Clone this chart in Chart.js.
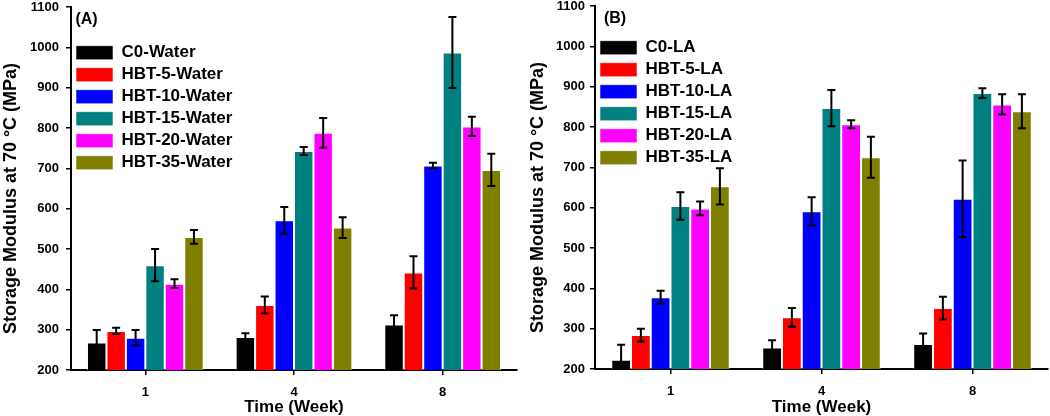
<!DOCTYPE html>
<html>
<head>
<meta charset="utf-8">
<script src="https://cdn.jsdelivr.net/npm/chart.js@4.4.0/dist/chart.umd.min.js"></script>
<style>
body { margin: 0; background: #fff; }
.panel { position: absolute; top: 0; }
</style>
</head>
<body>
<canvas id="chartA" class="panel" width="525" height="416" style="left:0"></canvas>
<canvas id="chartB" class="panel" width="525" height="416" style="left:525px"></canvas>
<script>
const weeks = ['1', '4', '8'];
const waterLabels = ['C0-Water', 'HBT-5-Water', 'HBT-10-Water', 'HBT-15-Water', 'HBT-20-Water', 'HBT-35-Water'];
const laLabels = ['C0-LA', 'HBT-5-LA', 'HBT-10-LA', 'HBT-15-LA', 'HBT-20-LA', 'HBT-35-LA'];
const barColors = ['#000000', '#ff0000', '#0000ff', '#008080', '#ff00ff', '#808000'];

// storage modulus (MPa), one row per sample, columns = week 1, 4, 8
const waterMeans = [
    [268, 282, 313],
    [297, 361, 442],
    [280, 571, 707],
    [460, 743, 987],
    [414, 788, 804],
    [530, 553, 696]
];
const waterErrors = [
    [31, 9, 23],
    [8, 21, 40],
    [19, 33, 7],
    [40, 10, 88],
    [11, 37, 24],
    [17, 26, 40]
];
const laMeans = [
    [223, 253, 262],
    [284, 328, 351],
    [378, 591, 622],
    [604, 847, 884],
    [598, 807, 856],
    [653, 725, 839]
];
const laErrors = [
    [37, 18, 26],
    [16, 23, 28],
    [16, 35, 95],
    [34, 45, 12],
    [17, 10, 25],
    [45, 51, 42]
];

Chart.defaults.font.family = '"Liberation Sans", Arial, sans-serif';
Chart.defaults.font.weight = 'bold';
Chart.defaults.color = '#000';

const errorBarPlugin = {
    id: 'errorBars',
    afterDatasetsDraw(chart) {
        const ctx = chart.ctx;
        const yScale = chart.scales.y;
        const area = chart.chartArea;
        ctx.save();
        ctx.beginPath();
        ctx.rect(area.left, area.top, area.right - area.left, area.bottom - area.top);
        ctx.clip();
        ctx.strokeStyle = '#000';
        ctx.lineWidth = 2;
        chart.data.datasets.forEach((ds, i) => {
            chart.getDatasetMeta(i).data.forEach((bar, j) => {
                const top = yScale.getPixelForValue(ds.data[j] + ds.errors[j]);
                const bottom = yScale.getPixelForValue(ds.data[j] - ds.errors[j]);
                ctx.beginPath();
                ctx.moveTo(bar.x, top);
                ctx.lineTo(bar.x, bottom);
                ctx.moveTo(bar.x - 4, top);
                ctx.lineTo(bar.x + 4, top);
                ctx.moveTo(bar.x - 4, bottom);
                ctx.lineTo(bar.x + 4, bottom);
                ctx.stroke();
            });
        });
        ctx.restore();
    }
};

function buildChart(id, panel, labels, means, errors, opts) {
    return new Chart(document.getElementById(id), {
        type: 'bar',
        data: {
            labels: weeks,
            datasets: labels.map((name, i) => ({
                label: name,
                data: means[i],
                errors: errors[i],
                backgroundColor: barColors[i],
                borderColor: 'rgba(255,255,255,0.55)',
                borderWidth: 1
            }))
        },
        options: {
            responsive: false,
            animation: false,
            layout: { padding: { top: opts.top, right: opts.right, left: 0, bottom: 0 } },
            datasets: { bar: { categoryPercentage: 0.785, barPercentage: 1 } },
            plugins: {
                tooltip: { enabled: false },
                legend: {
                    position: 'chartArea',
                    align: 'start',
                    title: {
                        display: true,
                        text: panel,
                        position: 'start',
                        font: { size: 16, weight: 'bold' },
                        padding: opts.titlePad
                    },
                    labels: {
                        boxWidth: 37,
                        boxHeight: 14,
                        padding: 5,
                        font: { size: 17, weight: 'bold' }
                    }
                }
            },
            scales: {
                x: {
                    grid: { display: true, offset: false, drawOnChartArea: false, tickLength: 5, color: '#000', lineWidth: 1.5 },
                    border: { color: '#000', width: 2 },
                    ticks: { font: { size: 13, weight: 'bold' }, padding: 10 },
                    title: { display: true, text: 'Time (Week)', font: { size: 17, weight: 'bold', lineHeight: 1 }, padding: 0 },
                    afterFit: s => {
                        s.height = opts.xHeight;
                        s.paddingLeft = 0;
                        s.paddingRight = 0;
                    }
                },
                y: {
                    min: 200,
                    max: 1100,
                    grid: { drawOnChartArea: false, tickLength: 5, color: '#000', lineWidth: 1.5 },
                    border: { color: '#000', width: 2 },
                    ticks: {
                        stepSize: 100,
                        font: { size: 13, weight: 'bold' },
                        padding: opts.tickPad,
                        callback: v => String(v)
                    },
                    title: {
                        display: true,
                        text: 'Storage Modulus at 70 °C (MPa)    ',
                        font: { size: 18, weight: 'bold', lineHeight: 1 },
                        padding: { top: opts.yTitlePad, bottom: 0 }
                    },
                    afterFit: s => {
                        s.width = opts.yWidth;
                        s.paddingTop = 0;
                        s.paddingBottom = 0;
                    }
                }
            }
        },
        plugins: [errorBarPlugin]
    });
}

buildChart('chartA', ' (A)', waterLabels, waterMeans, waterErrors,
    { top: 7, right: 8, xHeight: 46, yWidth: 71, tickPad: 7, yTitlePad: 2, titlePad: { top: 12, bottom: 8 } });
buildChart('chartB', '  (B)', laLabels, laMeans, laErrors,
    { top: 6, right: 2, xHeight: 47, yWidth: 70, tickPad: 5, yTitlePad: 4, titlePad: { top: 10.5, bottom: 4.5 } });
</script>
</body>
</html>
